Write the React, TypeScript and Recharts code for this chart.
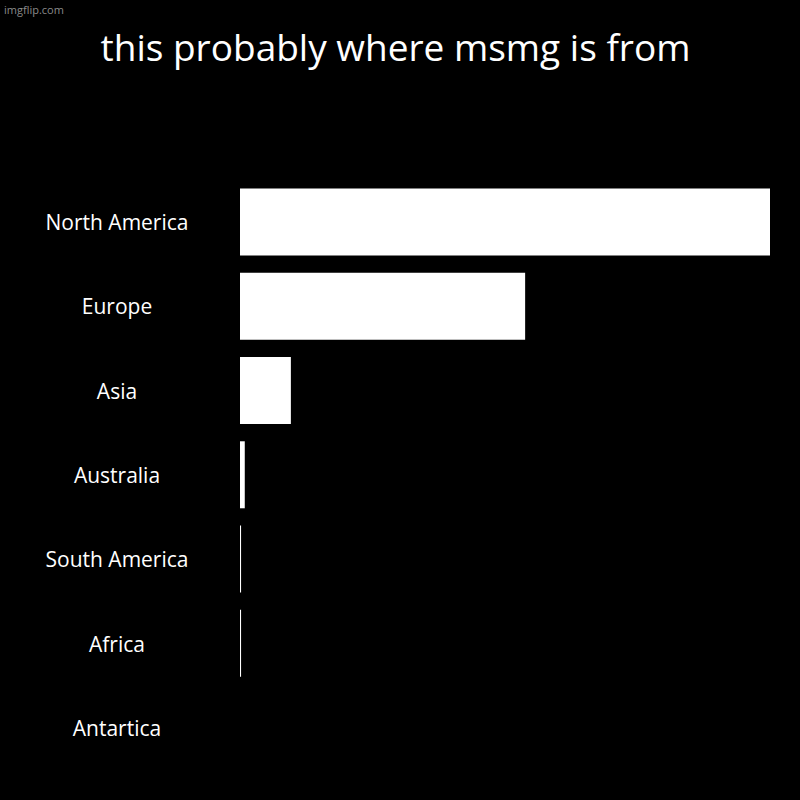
import React from "react";
import { BarChart, Bar, XAxis, YAxis } from "recharts";

const categories = ["North America", "Europe", "Asia", "Australia", "South America", "Africa", "Antartica"];
const values = [100, 53.8, 9.6, 0.9, 0.2, 0.2, 0];
const titleText = "this probably where msmg is from";

const data = categories.map((name, i) => ({ name, value: values[i] }));

const FONT = "'Open Sans', 'Noto Sans', sans-serif";

const Tick = (props: any) => {
  const { y, payload } = props;
  return (
    <text x={117} y={y} textAnchor="middle" dominantBaseline="central" fill="#ffffff" fontSize={21} fontFamily={FONT}>
      {payload.value}
    </text>
  );
};

export default function App() {
  return (
    <div style={{ position: "fixed", top: 0, left: 0, width: 800, height: 800, background: "#000000", overflow: "hidden" }}>
      <div style={{ position: "absolute", left: 4, top: 2, fontSize: 11, color: "#8a8a8a", fontFamily: FONT }}>imgflip.com</div>
      <div style={{ position: "absolute", left: 0, width: 791, top: 23, textAlign: "center", fontSize: 37, color: "#ffffff", fontFamily: FONT, lineHeight: "48px", whiteSpace: "nowrap" }}>
        {titleText}
      </div>
      <BarChart width={800} height={800} data={data} layout="vertical" margin={{ top: 180, right: 30, bottom: 30, left: 0 }} barCategoryGap="10%">
        <XAxis type="number" domain={[0, 100]} hide />
        <YAxis type="category" dataKey="name" width={240} axisLine={false} tickLine={false} tick={<Tick />} interval={0} />
        <Bar dataKey="value" fill="#ffffff" isAnimationActive={false} />
      </BarChart>
    </div>
  );
}
